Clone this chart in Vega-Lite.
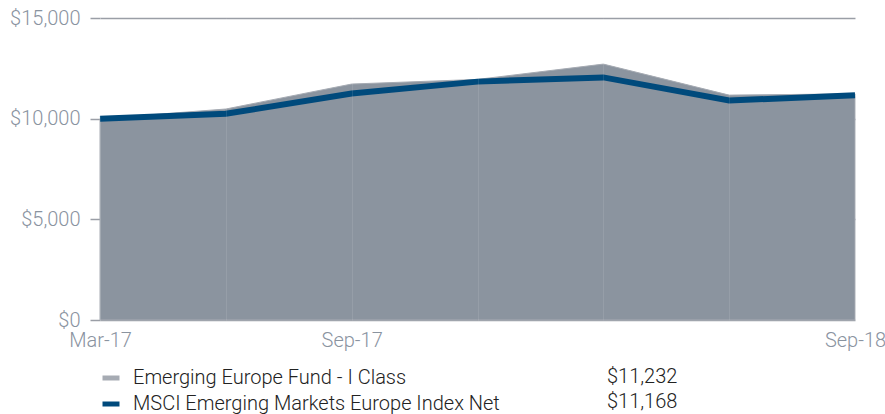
{
  "$schema": "https://vega.github.io/schema/vega-lite/v6.json",
  "width": 755,
  "height": 302,
  "autosize": {"type": "none"},
  "padding": {"left": 100, "top": 18, "right": 30, "bottom": 94},
  "background": "white",
  "config": {"view": {"stroke": null}, "font": "Roboto"},
  "data": {
    "values": [
      {"date": "Mar-17", "series": "Emerging Europe Fund - I Class", "value": 10000, "final": "$11,232"},
      {"date": "Jun-17", "series": "Emerging Europe Fund - I Class", "value": 10480, "final": "$11,232"},
      {"date": "Sep-17", "series": "Emerging Europe Fund - I Class", "value": 11720, "final": "$11,232"},
      {"date": "Dec-17", "series": "Emerging Europe Fund - I Class", "value": 11950, "final": "$11,232"},
      {"date": "Mar-18", "series": "Emerging Europe Fund - I Class", "value": 12710, "final": "$11,232"},
      {"date": "Jun-18", "series": "Emerging Europe Fund - I Class", "value": 11170, "final": "$11,232"},
      {"date": "Sep-18", "series": "Emerging Europe Fund - I Class", "value": 11232, "final": "$11,232"},
      {"date": "Mar-17", "series": "MSCI Emerging Markets Europe Index Net", "value": 10000, "final": "$11,168"},
      {"date": "Jun-17", "series": "MSCI Emerging Markets Europe Index Net", "value": 10240, "final": "$11,168"},
      {"date": "Sep-17", "series": "MSCI Emerging Markets Europe Index Net", "value": 11250, "final": "$11,168"},
      {"date": "Dec-17", "series": "MSCI Emerging Markets Europe Index Net", "value": 11840, "final": "$11,168"},
      {"date": "Mar-18", "series": "MSCI Emerging Markets Europe Index Net", "value": 12050, "final": "$11,168"},
      {"date": "Jun-18", "series": "MSCI Emerging Markets Europe Index Net", "value": 10900, "final": "$11,168"},
      {"date": "Sep-18", "series": "MSCI Emerging Markets Europe Index Net", "value": 11168, "final": "$11,168"}
    ]
  },
  "encoding": {
    "x": {
      "field": "date", "type": "ordinal", "sort": null,
      "scale": {"type": "point", "padding": 0},
      "axis": {
        "title": null, "ticks": false, "tickSize": 0, "domain": false, "labelPadding": 10,
        "labelAngle": 0, "labelOverlap": false,
        "labelExpr": "(datum.label == 'Mar-17' || datum.label == 'Sep-17' || datum.label == 'Sep-18') ? datum.label : ''",
        "labelFont": "Roboto", "labelFontWeight": 300, "labelFontSize": 20, "labelColor": "#8a939f",
        "grid": true, "gridColor": "#ffffff", "gridOpacity": 0.1, "gridWidth": 1, "zindex": 1
      }
    },
    "y": {
      "field": "value", "type": "quantitative",
      "scale": {"domain": [0, 15000], "nice": false},
      "axis": {
        "title": null, "values": [0, 5000, 10000, 15000], "format": "$,.0f",
        "domain": false, "tickSize": 10, "tickColor": "#9a9ea6", "tickWidth": 1.5,
        "gridColor": "#9a9ea6", "gridWidth": 1.5, "labelPadding": 10,
        "labelFont": "Roboto", "labelFontWeight": 300, "labelFontSize": 20, "labelColor": "#8a939f"
      }
    }
  },
  "layer": [
    {
      "transform": [{"filter": "datum.series == 'Emerging Europe Fund - I Class'"}],
      "mark": {"type": "area", "fill": "#8b949f", "strokeWidth": 1, "opacity": 1},
      "encoding": {
        "stroke": {
          "field": "series", "type": "nominal",
          "scale": {"domain": ["Emerging Europe Fund - I Class", "MSCI Emerging Markets Europe Index Net"], "range": ["#a6abb3", "#004a7c"]},
          "legend": {
            "title": null, "orient": "none", "legendX": 0, "legendY": 349,
            "symbolType": "stroke", "symbolSize": 289, "symbolStrokeWidth": 5,
            "labelFont": "Roboto", "labelFontWeight": 300, "labelFontSize": 20, "labelColor": "#222222",
            "labelOffset": 11, "rowPadding": 5, "padding": 0, "labelLimit": 450,
            "encode": {"symbols": {"update": {"strokeCap": {"value": "round"}}}}
          }
        }
      }
    },
    {
      "transform": [{"filter": "datum.series == 'MSCI Emerging Markets Europe Index Net'"}],
      "mark": {"type": "line", "strokeWidth": 6, "strokeCap": "butt"},
      "encoding": {
        "stroke": {"field": "series", "type": "nominal"}
      }
    },
    {
      "mark": {"type": "point", "opacity": 0},
      "encoding": {
        "shape": {
          "field": "final", "type": "nominal",
          "scale": {"domain": ["$11,232", "$11,168"]},
          "legend": {
            "title": null, "orient": "none", "legendX": 483, "legendY": 349,
            "symbolOpacity": 0, "symbolSize": 1,
            "labelFont": "Roboto", "labelFontWeight": 300, "labelFontSize": 20, "labelColor": "#222222",
            "labelOffset": 4, "rowPadding": 5, "padding": 0
          }
        }
      }
    }
  ]
}
